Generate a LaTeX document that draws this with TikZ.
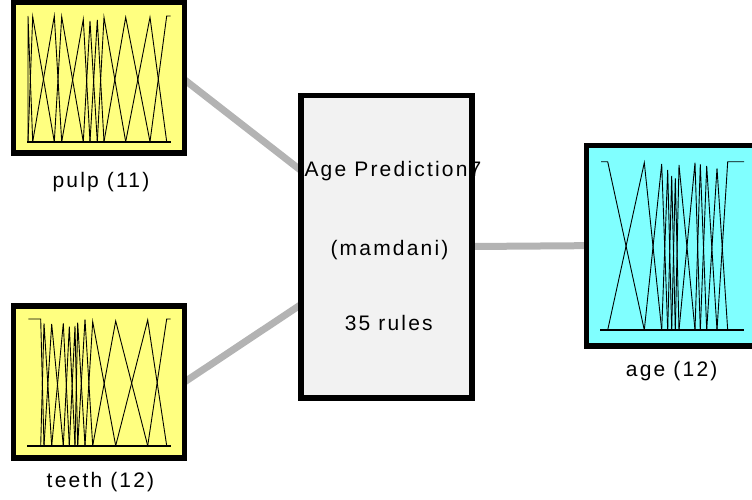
\documentclass[tikz,border=0pt]{standalone}
\usepackage{fontspec}
\newfontfamily\labfont[LetterSpace=10.5]{Liberation Sans}
\usetikzlibrary{backgrounds,calc}
\definecolor{mfyellow}{RGB}{255,255,128}
\definecolor{mfcyan}{RGB}{128,255,255}
\definecolor{sysgray}{RGB}{242,242,242}
\definecolor{linkgray}{RGB}{179,179,179}
\tikzset{
  varbox/.style={draw=black, line width=5.5pt, rectangle, inner sep=0pt, outer sep=0pt},
  lab/.style={font=\labfont\fontsize{21}{25}\selectfont, inner sep=0pt, anchor=base},
  link/.style={draw=linkgray, line width=7pt},
  mf/.style={line width=0.9pt, draw=black, line join=miter},
  axisline/.style={line width=2pt, draw=black},
}
\begin{document}
\begin{tikzpicture}[x=1pt,y=-1pt]
\useasboundingbox (0,0) rectangle (752,499);
\clip (0,0) rectangle (752,499);

% boxes
\node[varbox, fill=mfyellow, minimum width=171pt, minimum height=150.5pt] (pulp) at (99,77.75) {};
\node[varbox, fill=mfyellow, minimum width=171pt, minimum height=152pt] (teeth) at (99,382) {};
\node[varbox, fill=mfcyan, minimum width=173pt, minimum height=200.7pt] (age) at (673,245.65) {};
\node[rectangle, fill=sysgray, inner sep=0pt, outer sep=0pt, minimum width=171pt, minimum height=302.5pt] (mid) at (386.5,246.5) {};

% labels
\node[lab] (pulplab) at (101,187) {pulp (11)};
\node[lab] (teethlab) at (100.5,487.5) {teeth (12)};
\node[lab] (agelab) at (671.7,376.5) {age (12)};
\node[lab] (title) at (393,176.7) {Age Prediction7};
\node[lab] (mtype) at (389.5,255.6) {(mamdani)};
\node[lab] (nrules) at (388.8,330) {35 rules};
\draw[line width=5.5pt] (mid.north west) rectangle (mid.south east);

% pulp membership functions
\draw[axisline] (27.3,141.7) -- (170.7,141.7);
\draw[mf] (28,141.7) -- (28,16) -- (32.7,141.7);
\draw[mf] (28,141.7) -- (32.7,16.7) -- (54.3,141.7);
\draw[mf] (32.7,141.7) -- (54.3,16) -- (61.7,141.7);
\draw[mf] (54.3,141.7) -- (61.7,16.7) -- (83.3,141.7);
\draw[mf] (61.7,141.7) -- (83.3,19.3) -- (90,141.7);
\draw[mf] (83.3,141.7) -- (90,21) -- (97.3,141.7);
\draw[mf] (90,141.7) -- (97.3,20) -- (104,141.7);
\draw[mf] (97.3,141.7) -- (104,17.3) -- (125.7,141.7);
\draw[mf] (104,141.7) -- (125.7,17.3) -- (150,141.7);
\draw[mf] (125.7,141.7) -- (150,17.3) -- (166.7,141.7);
\draw[mf] (150,141.7) -- (166.7,16) -- (170.7,16);

% teeth membership functions
\draw[axisline] (27.3,445.7) -- (170.7,445.7);
\draw[mf] (28.3,319) -- (40.7,319) -- (44,445.7);
\draw[mf] (40.7,445.7) -- (44,323.3) -- (51.7,445.7);
\draw[mf] (44,445.7) -- (51.7,324) -- (63.3,445.7);
\draw[mf] (51.7,445.7) -- (63.3,323.3) -- (69.3,445.7);
\draw[mf] (63.3,445.7) -- (69.3,326.7) -- (75,445.7);
\draw[mf] (69.3,445.7) -- (75,326) -- (77.7,445.7);
\draw[mf] (75,445.7) -- (77.7,322.7) -- (85,445.7);
\draw[mf] (77.7,445.7) -- (85,319.3) -- (92.7,445.7);
\draw[mf] (85,445.7) -- (92.7,321.7) -- (115.7,445.7);
\draw[mf] (92.7,445.7) -- (115.7,321) -- (147.7,445.7);
\draw[mf] (115.7,445.7) -- (147.7,320) -- (166.7,445.7);
\draw[mf] (147.7,445.7) -- (166.7,319) -- (170.7,319);

% age membership functions
\draw[axisline] (600,330) -- (744,330);
\draw[mf] (601,161.7) -- (607.7,161.7) -- (644.3,330);
\draw[mf] (607.7,330) -- (644.3,162.7) -- (661.7,330);
\draw[mf] (644.3,330) -- (661.7,164) -- (667.7,330);
\draw[mf] (661.7,330) -- (667.7,170) -- (671.7,330);
\draw[mf] (667.7,330) -- (671.7,176) -- (675.3,330);
\draw[mf] (671.7,330) -- (675.3,178.3) -- (679,330);
\draw[mf] (675.3,330) -- (679,165) -- (695,330);
\draw[mf] (679,330) -- (695,162.7) -- (700.3,330);
\draw[mf] (695,330) -- (700.3,164.3) -- (706.7,330);
\draw[mf] (700.3,330) -- (706.7,166) -- (717,330);
\draw[mf] (706.7,330) -- (717,168.3) -- (727.7,330);
\draw[mf] (717,330) -- (727.7,161.7) -- (744,161.7);

% connectors
\begin{pgfonlayer}{background}
\draw[link] ($(pulp.east)+(0,2)$) -- ($(mid.west)+(0,-76)$);
\draw[link] (teeth.east) -- ($(mid.west)+(0,58)$);
\draw[link] (mid.east) -- (age.west);
\end{pgfonlayer}
\end{tikzpicture}
\end{document}
